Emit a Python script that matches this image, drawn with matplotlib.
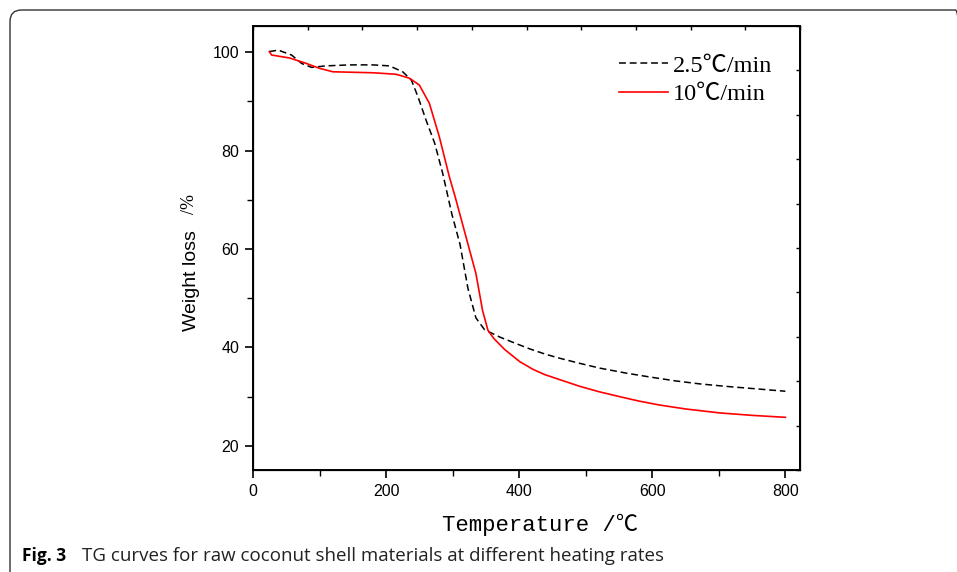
import matplotlib
matplotlib.use("Agg")
import matplotlib.pyplot as plt
from matplotlib.patches import FancyBboxPatch
import numpy as np

# 2.5 C/min curve (black dashed)
temp_slow = [24.5, 38, 58, 73, 88, 110, 145, 180, 205, 225, 238, 248, 260, 273, 285,
             299, 311, 323, 335, 348, 371, 395, 416, 440, 461, 490, 521, 560, 596, 635, 671, 710, 746, 800]
wt_slow = [100.1, 100.4, 99.4, 97.7, 96.9, 97.2, 97.4, 97.4, 97.2, 96.0, 94.3, 90.9, 86.2, 81.5, 75.4,
           67.0, 61.0, 52.0, 46.0, 43.6, 42.1, 40.8, 39.7, 38.6, 37.8, 36.8, 35.8, 34.8, 34.0, 33.2, 32.6,
           32.1, 31.7, 31.1]

# 10 C/min curve (red)
temp_fast = [24.5, 28, 55, 80, 100, 120, 180, 215, 235, 250, 265, 280, 295, 304,
             320, 335, 345, 353, 362, 378, 401, 420, 438, 460, 491, 520, 551, 580, 611,
             650, 701, 750, 800]
wt_fast = [100.1, 99.4, 98.8, 97.7, 96.7, 96.0, 95.8, 95.5, 94.7, 93.3, 89.6, 82.8, 74.7, 70.5,
           62.5, 55.0, 47.5, 43.5, 41.8, 39.6, 37.1, 35.6, 34.5, 33.5, 32.1, 31.0, 30.0, 29.1, 28.3,
           27.5, 26.7, 26.2, 25.8]

series_labels = ["2.5\u2103/min", "10\u2103/min"]
x_ticks = [0, 200, 400, 600, 800]
y_ticks = [20, 40, 60, 80, 100]

fig = plt.figure(figsize=(9.57, 5.72), dpi=100)
ax = fig.add_axes([253/957, 1-470/572, (800-253)/957, (470-26)/572])

ax.plot(temp_slow, wt_slow, color='black', lw=1.1, linestyle=(0, (4.5, 2.5)), label=series_labels[0])
ax.plot(temp_fast, wt_fast, color='red', lw=1.2, label=series_labels[1])

ax.set_xlim(0, 822)
ax.set_ylim(15.1, 105.3)
ax.set_xticks(x_ticks)
ax.set_yticks(y_ticks)
ax.set_xticks([100, 300, 500, 700], minor=True)
ax.set_yticks([30, 50, 70, 90], minor=True)
ax.tick_params(which='major', direction='out', length=6, width=1.2, labelsize=11.5, pad=4)
ax.tick_params(which='minor', direction='out', length=4, width=1.0)
for lab in ax.get_xticklabels() + ax.get_yticklabels():
    lab.set_fontfamily('Liberation Sans')
for s in ax.spines.values():
    s.set_linewidth(1.4)

# opposite axes: ten equal inward divisions, no labels
top = ax.twiny()
top.set_xlim(0, 1)
top.set_xticks(np.linspace(0, 1, 11))
top.tick_params(axis='x', direction='in', length=3, width=1.0, labeltop=False)
right = ax.twinx()
right.set_ylim(0, 1)
right.set_yticks(np.linspace(0, 1, 11))
right.tick_params(axis='y', direction='in', length=3, width=1.0, labelright=False)

leg = ax.legend(loc='upper left', bbox_to_anchor=(0.630, 0.985), frameon=False,
                handlelength=2.0, handletextpad=0.2, labelspacing=0.28,
                prop=dict(family=['Liberation Serif', 'Noto Sans CJK SC'], size=17.5))

fig.text(192/957, 1-281/572, "Weight loss", rotation=90, ha='center', va='center',
         fontsize=14, family='Liberation Sans')
fig.text(189/957, 1-204/572, "/%", rotation=90, ha='center', va='center',
         fontsize=13, family=['Liberation Serif', 'DejaVu Sans'])
fig.text(540/957, 1-525/572, "Temperature /\u2103", ha='center', va='center',
         fontsize=16, family=['Liberation Mono', 'DejaVu Sans Mono', 'Noto Sans CJK SC'])

fig.text(22/957, 1-561/572, "Fig. 3", ha='left', va='baseline', fontsize=12.5,
         fontweight='bold', family='Open Sans')
fig.text(82/957, 1-561/572, "TG curves for raw coconut shell materials at different heating rates",
         ha='left', va='baseline', fontsize=13.5, family='Open Sans', color='#222222')

frame = FancyBboxPatch((10/957, -0.05), 1.0, 1.05 - 10/572,
                       boxstyle="round,pad=0,rounding_size=0.012",
                       transform=fig.transFigure, fill=False, edgecolor='#333333', lw=1.0,
                       mutation_aspect=957/572)
fig.patches.append(frame)

fig.savefig("out.png", dpi=100)
